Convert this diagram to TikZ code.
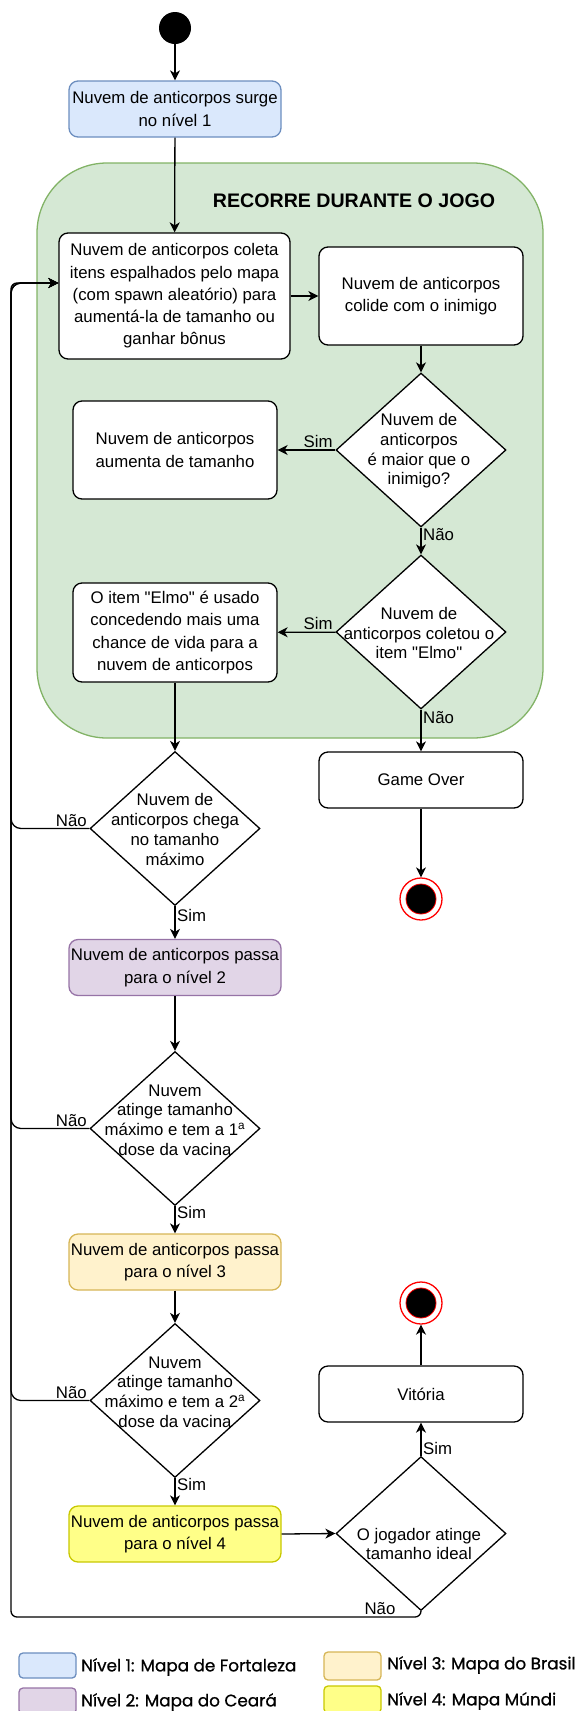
\documentclass[tikz,border=0pt]{standalone}
\usepackage{fontspec}
\setmainfont{Liberation Sans}[Ligatures=TeXOff]
\newfontfamily\legfont{Poppins}[FakeBold=0.8]
\usetikzlibrary{arrows.meta,shapes.geometric,calc}
\definecolor{bluef}{HTML}{DAE8FC}
\definecolor{blues}{HTML}{6C8EBF}
\definecolor{greenf}{HTML}{D5E8D4}
\definecolor{greens}{HTML}{82B366}
\definecolor{purplef}{HTML}{E1D5E7}
\definecolor{purples}{HTML}{9673A6}
\definecolor{orangef}{HTML}{FFF2CC}
\definecolor{oranges}{HTML}{D6B656}
\definecolor{yellowf}{HTML}{FFFF88}
\definecolor{yellows}{HTML}{C8C800}
\begin{document}
\begin{tikzpicture}[x=1pt,y=-1pt,
  base/.style={font=\fontsize{16.8}{22.3}\selectfont, align=center, text=black},
  box/.style={base, draw=black, line width=1.3pt, rounded corners=9pt, inner sep=0pt, fill=white, minimum width=204pt},
  lvbox/.style={box, minimum width=212pt, minimum height=56pt},
  dia/.style={diamond, draw=black, line width=1.3pt, fill=white, inner sep=0pt, minimum width=170pt, minimum height=154pt},
  dtext/.style={font=\fontsize{16.8}{19.7}\selectfont, align=center, inner sep=0pt},
  arr/.style={line width=1.3pt, draw=black, -{Stealth[length=10pt,width=10pt,inset=3pt]}},
  lbl/.style={font=\fontsize{16.8}{20}\selectfont, inner sep=1.5pt},
  loopline/.style={arr, rounded corners=10pt},
  legbox/.style={draw, line width=1.3pt, rounded corners=4pt, minimum width=57pt, inner sep=0pt},
  legtext/.style={font=\legfont\fontsize{16.8}{20}\selectfont, anchor=west, inner sep=0pt},
  endout/.style={circle, draw=red, fill=white, line width=1.3pt, minimum size=42pt, inner sep=0pt},
  endin/.style={circle, draw=red, fill=black, line width=0.8pt, minimum size=30pt, inner sep=0pt}
]
\useasboundingbox (0,0) rectangle (574,1711);

% start
\node[circle, fill=black, minimum size=32pt, inner sep=0pt] (start) at (175,28) {};
\node[lvbox, fill=bluef, draw=blues] (b1) at (175,109) {Nuvem de anticorpos surge\\no nível 1};

% group
\node[draw=greens, fill=greenf, line width=1.3pt, rounded corners=70pt, minimum width=506pt, minimum height=575pt, inner sep=0pt] (grp) at (290,450.5) {};
\node[font=\bfseries\fontsize{19.6}{22}\selectfont, inner sep=0pt] (title) at (354,201) {RECORRE DURANTE O JOGO};

\node[box, minimum width=231pt, minimum height=126pt] (col) at (174.5,296) {Nuvem de anticorpos coleta\\itens espalhados pelo mapa\\(com spawn aleatório) para\\aumentá-la de tamanho ou\\ganhar bônus};
\node[box, minimum height=98pt] (cld) at (421,296) {Nuvem de anticorpos\\colide com o inimigo};

\node[dia] (d1) at (421,450) {};
\node[dtext] (d1t) at (419,451) {Nuvem de\\anticorpos\\é maior que o\\inimigo?};
\node[box, minimum height=98pt] (aum) at (175,450) {Nuvem de anticorpos\\aumenta de tamanho};

\node[dia] (d2) at (421,632) {};
\node[dtext] (d2t) at (419,633) {Nuvem de\\anticorpos coletou o\\item "Elmo"};
\node[box, minimum height=99pt] (elmo) at (175,632.5) {O item "Elmo" é usado\\concedendo mais uma\\chance de vida para a\\nuvem de anticorpos};

% outside group
\node[box, minimum height=56pt] (go) at (421,780) {Game Over};
\node[endout] (end1) at (421,899) {};
\node[endin] (end1i) at (end1) {};

\node[dia] (d3) at (175,828.5) {};
\node[dtext] (d3t) at (175,829.5) {Nuvem de\\anticorpos chega\\no tamanho\\máximo};
\node[lvbox, fill=purplef, draw=purples] (b2) at (175,967.5) {Nuvem de anticorpos passa\\para o nível 2};

\node[dia] (d4) at (175,1128.5) {};
\node[dtext] (d4t) at (175,1120) {Nuvem\\atinge tamanho\\máximo e tem a 1\textsuperscript{a}\\dose da vacina};
\node[lvbox, fill=orangef, draw=oranges] (b3) at (175,1262) {Nuvem de anticorpos passa\\para o nível 3};

\node[dia] (d5) at (175,1400.5) {};
\node[dtext] (d5t) at (175,1392) {Nuvem\\atinge tamanho\\máximo e tem a 2\textsuperscript{a}\\dose da vacina};
\node[lvbox, fill=yellowf, draw=yellows] (b4) at (175,1534) {Nuvem de anticorpos passa\\para o nível 4};

\node[dia] (d6) at (421,1533.5) {};
\node[dtext] (d6t) at (419,1544) {O jogador atinge\\tamanho ideal};
\node[box, minimum height=56pt] (vit) at (421,1394) {Vitória};
\node[endout] (end2) at (421,1303) {};
\node[endin] (end2i) at (end2) {};

% connectors
\draw[arr] (start) -- (b1);
\draw[arr] (b1) -- (col);
\draw[arr] (col) -- (cld);
\draw[arr] (cld) -- (d1);
\draw[arr] (d1) -- node[lbl, above, pos=0.3]{Sim} (aum);
\draw[arr] (d1) -- node[lbl, right, pos=0.24]{Não} (d2);
\draw[arr] (d2) -- node[lbl, above, pos=0.3]{Sim} (elmo);
\draw[arr] (d2) -- node[lbl, right, pos=0.19]{Não} (go);
\draw[arr] (elmo) -- (d3);
\draw[arr] (go) -- (end1);
\draw[arr] (d3) -- node[lbl, right, pos=0.3]{Sim} (b2);
\draw[arr] (b2) -- (d4);
\draw[arr] (d4) -- node[lbl, right, pos=0.24]{Sim} (b3);
\draw[arr] (b3) -- (d5);
\draw[arr] (d5) -- node[lbl, right, pos=0.24]{Sim} (b4);
\draw[arr] (b4.east) -- (d6.west);
\draw[arr] (d6) -- node[lbl, right, pos=0.23]{Sim} (vit);
\draw[arr] (vit) -- (end2);

\coordinate (entry) at ([yshift=13pt]col.west);
\coordinate (lx) at (11,0);
\coordinate (by) at (0,1617);
\draw[loopline] (d3.west) -- node[lbl, above, pos=0.23]{Não} (d3.west -| lx) -- (lx |- entry) -- (entry);
\draw[loopline] (d4.west) -- node[lbl, above, pos=0.23]{Não} (d4.west -| lx) -- (lx |- entry) -- (entry);
\draw[loopline] (d5.west) -- node[lbl, above, pos=0.23]{Não} (d5.west -| lx) -- (lx |- entry) -- (entry);
\draw[arr, rounded corners=6pt] (d6.south) -- (d6.south |- by) -- node[lbl, above, pos=0.1]{Não} (lx |- by) -- (lx |- entry) -- (entry);

% legend
\node[legbox, fill=bluef, draw=blues, minimum height=25pt] (l1) at (47.5,1665.5) {};
\node[legtext] (l1t) at (81,1667) {Nível 1: Mapa de Fortaleza};
\node[legbox, fill=purplef, draw=purples, minimum height=26pt] (l2) at (47.5,1701) {};
\node[legtext] (l2t) at (81,1702) {Nível 2: Mapa do Ceará};
\node[legbox, fill=orangef, draw=oranges, minimum height=28pt] (l3) at (352.5,1666) {};
\node[legtext] (l3t) at (387,1665) {Nível 3: Mapa do Brasil};
\node[legbox, fill=yellowf, draw=yellows, minimum height=27pt] (l4) at (352.5,1699.5) {};
\node[legtext] (l4t) at (387,1701) {Nível 4: Mapa Múndi};
\end{tikzpicture}
\end{document}
